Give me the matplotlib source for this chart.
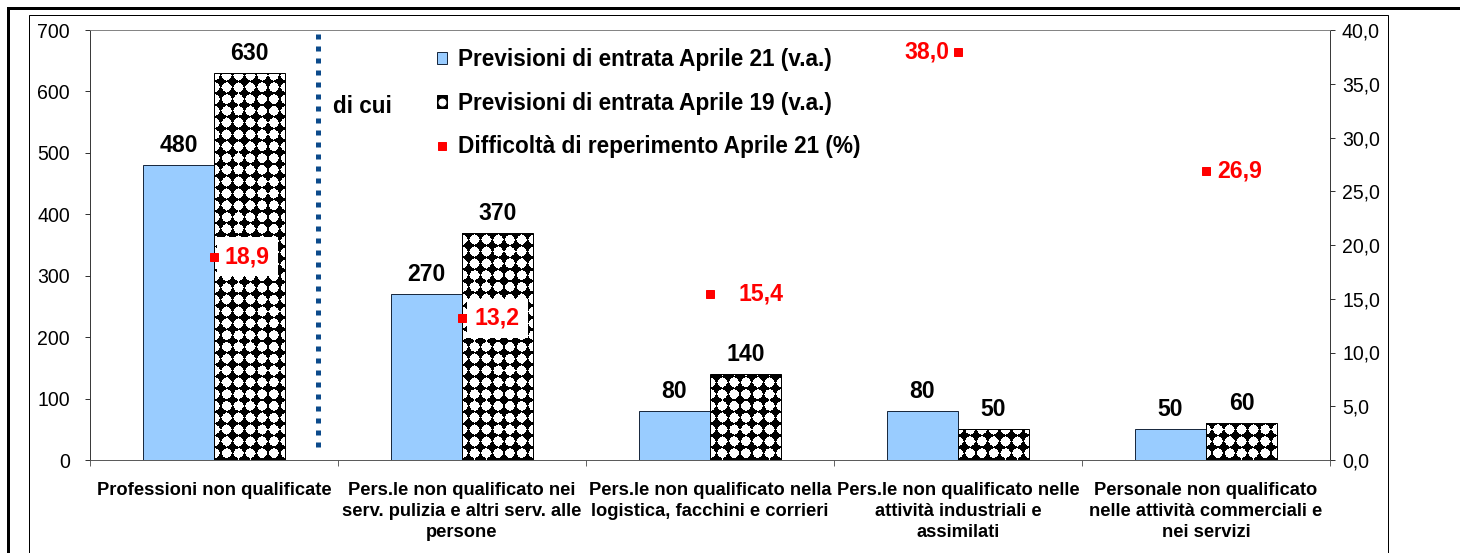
import numpy as np
import matplotlib
matplotlib.use("Agg")
import matplotlib.pyplot as plt
from matplotlib.patches import Patch, Rectangle
from matplotlib.lines import Line2D
from matplotlib.ticker import FuncFormatter

# dati
categorie = [
    "Professioni non qualificate",
    "Pers.le non qualificato nei\nserv. pulizia e altri serv. alle\npersone",
    "Pers.le non qualificato nella\nlogistica, facchini e corrieri",
    "Pers.le non qualificato nelle\nattività industriali e\nassimilati",
    "Personale non qualificato\nnelle attività commerciali e\nnei servizi",
]
entrate_apr21 = [480, 270, 80, 80, 50]
entrate_apr19 = [630, 370, 140, 50, 60]
difficolta_apr21 = [18.9, 13.2, 15.4, 38.0, 26.9]

nome_serie = [
    "Previsioni di entrata Aprile 21 (v.a.)",
    "Previsioni di entrata Aprile 19 (v.a.)",
    "Difficoltà di reperimento Aprile 21 (%)",
]

# posizione delle etichette rosse (offset in px, allineamento)
offset_etichette = [(11, "left"), (13, "left"), (28, "left"), (-9, "right"), (11, "left")]

DPI = 72
plt.rcParams["font.family"] = ["Liberation Sans", "DejaVu Sans"]

fig = plt.figure(figsize=(1460 / DPI, 553 / DPI), dpi=DPI)
ax = fig.add_axes([90 / 1460, 93 / 553, 1240 / 1460, 430 / 553])
ax2 = ax.twinx()

# cornici esterne
fig.add_artist(Rectangle((8 / 1460, -0.1), 1.2, (553 - 8) / 553 + 0.1, transform=fig.transFigure,
                         fill=False, edgecolor="black", linewidth=3))
fig.add_artist(Rectangle((29 / 1460, -0.1), (1388 - 29) / 1460, (553 - 15) / 553 + 0.1,
                         transform=fig.transFigure, fill=False, edgecolor="black", linewidth=1))

x = np.arange(len(categorie))
w = 0.286
ax.set_xlim(-0.5, len(categorie) - 0.5)
ax.set_ylim(0, 700)

barre21 = ax.bar(x - w / 2, entrate_apr21, width=w, color="#99ccff", edgecolor="#1a2a40",
                 linewidth=1, zorder=2)
barre19 = ax.bar(x + w / 2, entrate_apr19, width=w, fill=False, edgecolor="black", linewidth=1, zorder=3)

# trama a pallini bianchi su fondo nero (come il motivo di Excel)
W, H = int(round(ax.bbox.width)), int(round(ax.bbox.height))
px, py = np.meshgrid(np.arange(W) + 0.5, np.arange(H) + 0.5)
p = 11.8
dx = np.mod(px - 1, p) - p / 2
dy = np.mod(py - 1, p) - p / 2
trama = ((np.hypot(dx, dy) < 4.7) | (np.abs(dx) + np.abs(dy) < 5.6)).astype(float)
for b in barre19:
    im = ax.imshow(trama, extent=(-0.5, len(categorie) - 0.5, 0, 700), origin="lower", cmap="gray",
                   vmin=0, vmax=1, interpolation="nearest", aspect="auto", zorder=2.5)
    im.set_clip_path(b)
ax.set_xlim(-0.5, len(categorie) - 0.5)
ax.set_ylim(0, 700)

for barre, valori in ((barre21, entrate_apr21), (barre19, entrate_apr19)):
    for b, v in zip(barre, valori):
        ax.annotate(str(v), (b.get_x() + b.get_width() / 2, v), xytext=(0, 8), textcoords="offset points",
                    ha="center", va="bottom", fontsize=23, fontweight="bold")

# linea "di cui"
ax.axvline(0.42, ymin=0.03, ymax=0.993, color="#0b4a8b", linewidth=5, linestyle=(0, (1, 1.4)), zorder=4)
ax.text(0.48, 575, "di cui", fontsize=22.5, fontweight="bold", va="center", ha="left")

ax.set_yticks(range(0, 701, 100))
ax.set_xticks(x)
ax.set_xticklabels(categorie, fontsize=18.4, fontweight="bold", linespacing=1.3)
ax.set_xticks(np.arange(-0.5, len(categorie)), minor=True)
ax.tick_params(axis="x", which="major", length=0, pad=22)
ax.tick_params(axis="x", which="minor", length=6, direction="out")
ax.tick_params(axis="y", labelsize=19.5, length=5, direction="out", pad=15)

ax2.plot(x, difficolta_apr21, linestyle="none", marker="s", markersize=8, color="#ff0000", zorder=6)
for xi, v, (dx_, ha) in zip(x, difficolta_apr21, offset_etichette):
    ax2.annotate(f"{v:.1f}".replace(".", ","), (xi, v), xytext=(dx_, 0), textcoords="offset points",
                 ha=ha, va="center", fontsize=23, fontweight="bold", color="#ff0000", zorder=5,
                 bbox=dict(boxstyle="square,pad=0.35", facecolor="white", edgecolor="none"))
ax2.set_ylim(0, 40)
ax2.set_yticks(np.arange(0, 40.1, 5))
ax2.yaxis.set_major_formatter(FuncFormatter(lambda v, pos: f"{v:.1f}".replace(".", ",")))
ax2.tick_params(axis="y", labelsize=19.5, length=5, direction="out", pad=7)

for a in (ax, ax2):
    a.spines["top"].set_color("#808080")
    a.spines["left"].set_color("#333333")
    a.spines["right"].set_color("#333333")
    a.spines["bottom"].set_color("#555555")

handles = [
    Patch(facecolor="#99ccff", edgecolor="#1a2a40", linewidth=1),
    (Patch(facecolor="black", edgecolor="black"),
     Line2D([], [], linestyle="none", marker="o", markersize=7, markerfacecolor="white",
            markeredgecolor="white")),
    Line2D([], [], linestyle="none", marker="s", markersize=8, color="#ff0000"),
]
leg = ax2.legend(handles, nome_serie, loc="upper left", bbox_to_anchor=(0.2637, 1.005), frameon=False,
                 prop={"size": 22.6, "weight": "bold"}, handlelength=0.45, handleheight=0.45,
                 handletextpad=0.48, labelspacing=0.9)

fig.savefig("out.png", dpi=DPI)
